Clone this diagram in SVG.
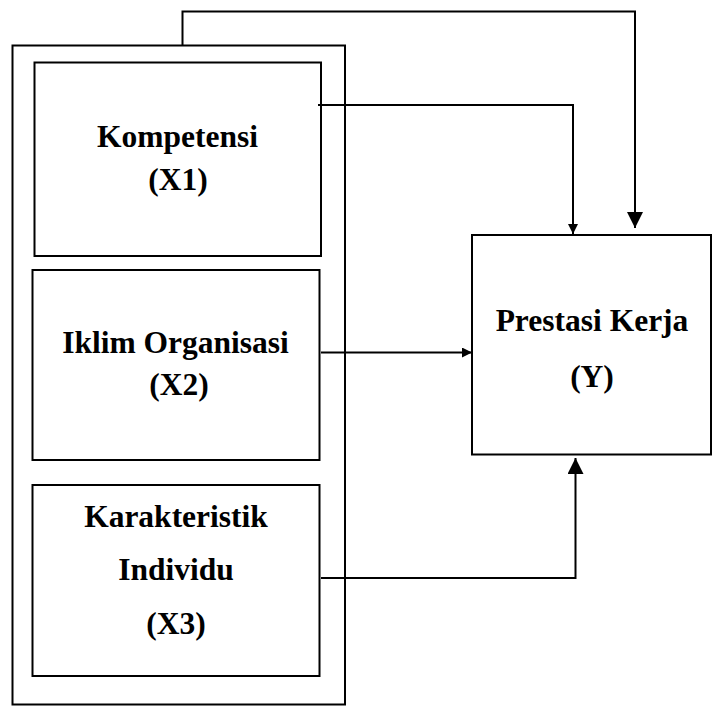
<svg xmlns="http://www.w3.org/2000/svg" width="715" height="707" viewBox="0 0 715 707">
<style>
.box{fill:none;stroke:#000;stroke-width:2}
.ln{fill:none;stroke:#000;stroke-width:2}
.t{font-family:"Liberation Serif","Times New Roman",serif;font-weight:bold;font-size:31.5px;fill:#000;text-anchor:middle}
</style>
<defs>
<marker id="big" markerUnits="userSpaceOnUse" markerWidth="16" markerHeight="16" refX="16" refY="8" orient="auto"><path d="M0,0 L16,8 L0,16 Z" fill="#000"/></marker>
<marker id="small" markerUnits="userSpaceOnUse" markerWidth="10" markerHeight="10" refX="10" refY="5" orient="auto"><path d="M0,0 L10,5 L0,10 Z" fill="#000"/></marker>
</defs>
<rect width="715" height="707" fill="#fff"/>
<g id="outer"><rect class="box" x="12.5" y="45.5" width="332.5" height="659"/></g>
<g id="x1"><rect class="box" x="34.5" y="62.5" width="286.5" height="193.5"/>
<text class="t" x="177.5" y="147">Kompetensi</text><text class="t" x="178" y="190">(X1)</text></g>
<g id="x2"><rect class="box" x="32.5" y="270" width="287" height="190"/>
<text class="t" x="175.5" y="353">Iklim Organisasi</text><text class="t" x="179" y="395">(X2)</text></g>
<g id="x3"><rect class="box" x="32.5" y="485" width="287" height="191"/>
<text class="t" x="176" y="527">Karakteristik</text><text class="t" x="176" y="580">Individu</text><text class="t" x="176" y="634">(X3)</text></g>
<g id="y"><rect class="box" x="472" y="235" width="239" height="219.5"/>
<text class="t" x="592" y="331">Prestasi Kerja</text><text class="t" x="592" y="387">(Y)</text></g>
<g id="connectors">
<path class="ln" d="M182.5,45 V11.5 H635 V228" marker-end="url(#big)"/>
<path class="ln" d="M318,105 H573 V234" marker-end="url(#small)"/>
<path class="ln" d="M321,352.5 H472" marker-end="url(#small)"/>
<path class="ln" d="M321,578 H575.5 V458" marker-end="url(#big)"/>
</g>
</svg>
